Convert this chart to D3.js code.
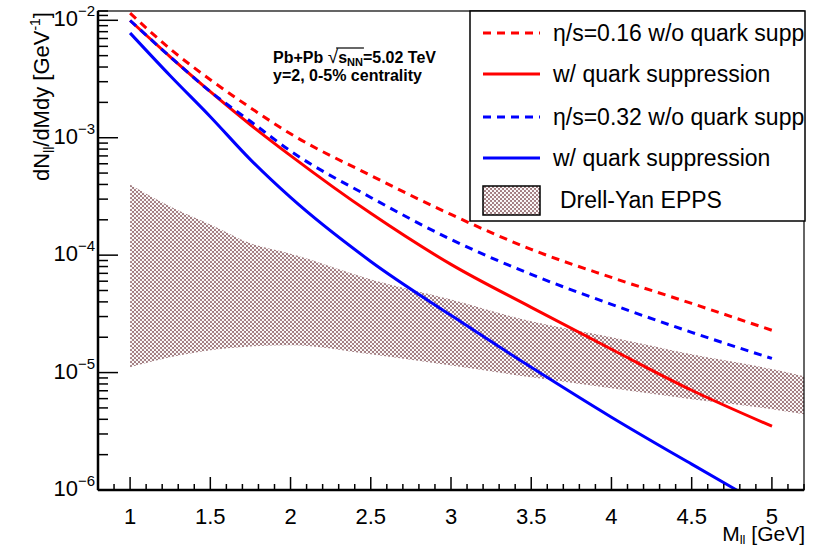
<!DOCTYPE html>
<html>
<head>
<meta charset="utf-8">
<script src="https://cdn.jsdelivr.net/npm/d3@7"></script>
<style>
  body { margin: 0; background: #fff; }
  text { font-family: "Liberation Sans", Arial, sans-serif; fill: #000; }
</style>
</head>
<body>
<script>
// values
var massGrid = [1, 1.25, 1.5, 1.75, 2, 2.5, 3, 3.5, 4, 4.5, 5];
var redDashed = [1.15e-2, 5.7e-3, 3.12e-3, 1.80e-3, 1.08e-3, 4.77e-4, 2.22e-4, 1.12e-4, 6.46e-5, 3.88e-5, 2.29e-5];
var redSolid = [9.96e-3, 4.89e-3, 2.47e-3, 1.29e-3, 7.04e-4, 2.27e-4, 8.34e-5, 3.59e-5, 1.58e-5, 7.07e-6, 3.49e-6];
var blueDashed = [9.96e-3, 4.89e-3, 2.47e-3, 1.38e-3, 7.70e-4, 3.10e-4, 1.36e-4, 6.86e-5, 3.81e-5, 2.20e-5, 1.32e-5];
var massBlueSolid = [1, 1.25, 1.5, 1.75, 2, 2.5, 3, 3.5, 4, 4.5, 4.78];
var blueSolid = [7.79e-3, 3.37e-3, 1.51e-3, 6.51e-4, 3.10e-4, 8.84e-5, 3.07e-5, 1.11e-5, 4.17e-6, 1.66e-6, 1.0e-6];
var massBand = [1, 1.25, 1.5, 1.75, 2, 2.5, 3, 3.5, 4, 4.5, 5, 5.25];
var bandUpper = [3.99e-4, 2.59e-4, 1.82e-4, 1.26e-4, 1.03e-4, 6.21e-5, 4.20e-5, 2.73e-5, 2.00e-5, 1.43e-5, 1.07e-5, 9.0e-6];
var bandLower = [1.11e-5, 1.35e-5, 1.55e-5, 1.67e-5, 1.71e-5, 1.43e-5, 1.15e-5, 9.12e-6, 7.36e-6, 5.93e-6, 4.88e-6, 4.3e-6];
var xTicks = [1, 1.5, 2, 2.5, 3, 3.5, 4, 4.5, 5];
var yDecades = [-6, -5, -4, -3, -2];
var legendLabels = ["\u03b7/s=0.16 w/o quark supp", "w/ quark suppression", "\u03b7/s=0.32 w/o quark supp", "w/ quark suppression", "Drell-Yan EPPS"];

var svgWidth = 814, svgHeight = 546;
var margin = { top: 11, right: 10, bottom: 56, left: 98 };
var chartWidth = svgWidth - margin.left - margin.right;
var chartHeight = svgHeight - margin.top - margin.bottom;

var svg = d3.select("body").append("svg")
  .attr("width", svgWidth)
  .attr("height", svgHeight);

var defs = svg.append("defs");
defs.append("clipPath").attr("id", "clip")
  .append("rect").attr("width", chartWidth).attr("height", chartHeight);

// dotted fill like the ROOT hatch
var pat = defs.append("pattern").attr("id", "dots")
  .attr("width", 4).attr("height", 4)
  .attr("patternUnits", "userSpaceOnUse");
pat.append("rect").attr("width", 4).attr("height", 4).attr("fill", "#a07a7e");
pat.append("circle").attr("cx", 1).attr("cy", 1).attr("r", 1.15).attr("fill", "#fff");
pat.append("circle").attr("cx", 3).attr("cy", 3).attr("r", 1.15).attr("fill", "#fff");

var g = svg.append("g").attr("transform", `translate(${margin.left}, ${margin.top})`);

var x = d3.scaleLinear().domain([0.8, 5.2]).range([0, chartWidth]);
var y = d3.scaleLog().domain([1e-6, 1.2e-2]).range([chartHeight, 0]);

var plot = g.append("g").attr("clip-path", "url(#clip)");

// Drell-Yan band
var bandData = massBand.map((m, i) => ({ m: m, lo: bandLower[i], hi: bandUpper[i] }));
plot.append("path")
  .datum(bandData)
  .attr("fill", "url(#dots)")
  .attr("d", d3.area().curve(d3.curveMonotoneX)
    .x(d => x(d.m)).y0(d => y(d.lo)).y1(d => y(d.hi)));

var line = d3.line().curve(d3.curveMonotoneX).x(d => x(d[0])).y(d => y(d[1]));

var series = [
  { m: massGrid, v: redDashed, color: "#ff0000", dash: "8,6" },
  { m: massGrid, v: redSolid, color: "#ff0000", dash: null },
  { m: massGrid, v: blueDashed, color: "#0000ff", dash: "8,6" },
  { m: massBlueSolid, v: blueSolid, color: "#0000ff", dash: null }
];
series.forEach(function(s) {
  plot.append("path")
    .datum(s.m.map((m, i) => [m, s.v[i]]))
    .attr("fill", "none")
    .attr("stroke", s.color)
    .attr("stroke-width", 3)
    .attr("stroke-dasharray", s.dash)
    .attr("d", line);
});

// frame
g.append("rect").attr("width", chartWidth).attr("height", chartHeight)
  .attr("fill", "none").attr("stroke", "#000").attr("stroke-width", 1.2);

// x axis ticks
var xMinor = d3.range(0.8, 5.21, 0.1).map(v => +v.toFixed(1));
var xAxis = g.append("g").attr("transform", `translate(0, ${chartHeight})`);
xAxis.selectAll("line.minor").data(xMinor).enter().append("line")
  .attr("x1", d => x(d)).attr("x2", d => x(d))
  .attr("y1", 0).attr("y2", d => (Math.abs(d * 2 - Math.round(d * 2)) < 1e-6 ? -13 : -6))
  .attr("stroke", "#000").attr("stroke-width", 1.5);
xAxis.append("line").attr("x1", 0).attr("x2", chartWidth)
  .attr("stroke", "#000").attr("stroke-width", 2.5);
xAxis.selectAll("text.tl").data(xTicks).enter().append("text")
  .attr("x", d => x(d)).attr("y", 34)
  .attr("text-anchor", "middle").attr("font-size", 22)
  .text(d => d);

// y axis ticks
var yAxis = g.append("g");
var yMinor = [];
yDecades.slice(0, -1).forEach(function(e) {
  for (var k = 2; k <= 9; k++) yMinor.push(k * Math.pow(10, e));
});
yMinor.push(1.1e-2, 1.2e-2);
yAxis.selectAll("line.minor").data(yMinor).enter().append("line")
  .attr("x1", 0).attr("x2", 10)
  .attr("y1", d => y(d)).attr("y2", d => y(d))
  .attr("stroke", "#000").attr("stroke-width", 1.5);
yAxis.selectAll("line.major").data(yDecades).enter().append("line")
  .attr("x1", 0).attr("x2", 20)
  .attr("y1", d => y(Math.pow(10, d))).attr("y2", d => y(Math.pow(10, d)))
  .attr("stroke", "#000").attr("stroke-width", 1.5);
yAxis.append("line").attr("y1", 0).attr("y2", chartHeight)
  .attr("stroke", "#000").attr("stroke-width", 2.5);
var yl = yAxis.selectAll("text.tl").data(yDecades).enter().append("text")
  .attr("x", -3).attr("y", d => y(Math.pow(10, d)) + 6)
  .attr("text-anchor", "end").attr("font-size", 22);
yl.append("tspan").text("10");
yl.append("tspan").attr("font-size", 15).attr("dy", -10).text(d => "\u2212" + (-d));

// axis titles
svg.append("text")
  .attr("x", 805).attr("y", 541)
  .attr("text-anchor", "end").attr("font-size", 21)
  .call(t => {
    t.append("tspan").text("M");
    t.append("tspan").attr("font-size", 13).attr("dy", 3).text("ll");
    t.append("tspan").attr("dy", -3).text(" [GeV]");
  });
svg.append("text")
  .attr("transform", "translate(49, 12) rotate(-90)")
  .attr("text-anchor", "end").attr("font-size", 22)
  .call(t => {
    t.append("tspan").text("dN");
    t.append("tspan").attr("font-size", 14).attr("dy", 5).text("ll");
    t.append("tspan").attr("dy", -5).text("/dMdy [GeV");
    t.append("tspan").attr("font-size", 14).attr("dy", -9).text("-1");
    t.append("tspan").attr("dy", 9).text("]");
  });

// annotation
var ann = svg.append("g");
var a1 = ann.append("text").attr("x", 273).attr("y", 63).attr("font-size", 16).attr("font-weight", "bold");
a1.append("tspan").text("Pb+Pb ");
a1.append("tspan").attr("font-weight", "normal").attr("font-size", 19).text("\u221a");
var sSpan = a1.append("tspan").text("s");
var nnSpan = a1.append("tspan").attr("font-size", 11).attr("dy", 3).text("NN");
a1.append("tspan").attr("dy", -3).text("=5.02 TeV");
var sStart = sSpan.node().getStartPositionOfChar(0).x;
var nnEnd = nnSpan.node().getEndPositionOfChar(1).x;
ann.append("line").attr("x1", sStart - 2).attr("x2", nnEnd + 1)
  .attr("y1", 48).attr("y2", 48).attr("stroke", "#000").attr("stroke-width", 1.2);
ann.append("text").attr("x", 273).attr("y", 81).attr("font-size", 16).attr("font-weight", "bold")
  .text("y=2, 0-5% centrality");

// legend
var leg = svg.append("g");
leg.append("rect").attr("x", 470).attr("y", 11).attr("width", 335).attr("height", 210)
  .attr("fill", "#fff").attr("stroke", "#000").attr("stroke-width", 1.5);
var legY = [33, 74, 117, 158, 200];
series.forEach(function(s, i) {
  leg.append("line").attr("x1", 483).attr("x2", 540)
    .attr("y1", legY[i]).attr("y2", legY[i])
    .attr("stroke", s.color).attr("stroke-width", 3)
    .attr("stroke-dasharray", s.dash);
});
leg.append("rect").attr("x", 483).attr("y", 186).attr("width", 57).attr("height", 29)
  .attr("fill", "url(#dots)").attr("stroke", "#000").attr("stroke-width", 1.5);
leg.selectAll("text.lg").data(legendLabels).enter().append("text")
  .attr("x", (d, i) => (i === 4 ? 560 : 553))
  .attr("y", (d, i) => legY[i] + 8)
  .attr("font-size", 23)
  .text(d => d);
</script>
</body>
</html>
